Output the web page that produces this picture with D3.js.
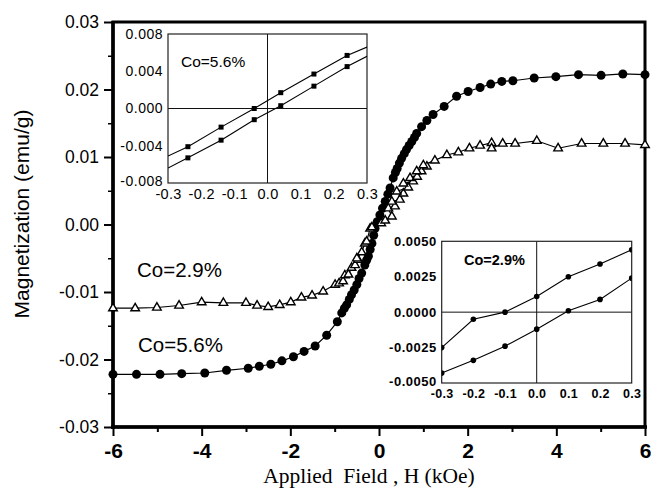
<!DOCTYPE html>
<html>
<head>
<meta charset="utf-8">
<script src="https://cdn.jsdelivr.net/npm/d3@7"></script>
<style>
  body { margin: 0; background: #fff; }
  text { font-family: "Liberation Sans", Arial, sans-serif; fill: #000; }
</style>
</head>
<body>
<div id="chart"></div>
<script>
/* constants */
var width = 651;
var height = 496;

/* data : main loops, H in kOe, M in emu/g */
var co56H = [-6.0,-5.47,-4.94,-4.45,-3.93,-3.44,-2.95,-2.70,-2.44,-2.19,-1.93,-1.69,-1.44,-1.18,-0.94,-0.84,-0.78,-0.73,-0.67,-0.62,-0.56,-0.50,-0.45,-0.39,-0.32,-0.28,-0.24,-0.20,-0.16,-0.12,-0.09,-0.04,0.02,0.08,0.14,0.20,0.25,0.32,0.37,0.41,0.46,0.51,0.57,0.62,0.68,0.74,0.80,0.85,0.96,1.08,1.22,1.47,1.75,2.01,2.28,2.52,2.77,3.02,3.50,3.99,4.50,5.01,5.50,6.0];
var co56M = [-0.0222,-0.0222,-0.0222,-0.0221,-0.0220,-0.0216,-0.0213,-0.0210,-0.0207,-0.0202,-0.0196,-0.0188,-0.0180,-0.0164,-0.0144,-0.0131,-0.0124,-0.0119,-0.0111,-0.0104,-0.0097,-0.0089,-0.0080,-0.0072,-0.0060,-0.0053,-0.0047,-0.0037,-0.0028,-0.0016,-0.0006,0.0004,0.0014,0.0024,0.0034,0.0045,0.0054,0.0069,0.0077,0.0083,0.0091,0.0098,0.0105,0.0111,0.0117,0.0123,0.0129,0.0135,0.0145,0.0154,0.0163,0.0175,0.0190,0.0197,0.0203,0.0208,0.0212,0.0213,0.0217,0.0219,0.0222,0.0221,0.0223,0.0222];

var co29H = [-6.0,-5.5,-5.01,-4.51,-4.0,-3.51,-3.0,-2.75,-2.5,-2.24,-1.99,-1.75,-1.51,-1.26,-0.99,-0.90,-0.81,-0.77,-0.69,-0.62,-0.54,-0.47,-0.50,-0.39,-0.32,-0.28,-0.20,-0.16,0.05,0.14,0.29,0.21,0.36,0.29,0.47,0.55,0.40,0.66,0.55,0.77,0.70,0.86,0.96,0.85,1.08,1.00,1.26,1.53,1.79,2.04,2.28,2.54,2.54,2.79,3.07,3.56,4.04,4.57,5.06,5.55,6.0];
var co29M = [-0.0124,-0.0124,-0.0123,-0.0120,-0.0115,-0.0116,-0.0116,-0.0120,-0.0122,-0.0119,-0.0115,-0.0108,-0.0105,-0.0099,-0.0089,-0.0087,-0.0084,-0.0075,-0.0074,-0.0064,-0.0060,-0.0052,-0.0050,-0.0041,-0.0028,-0.0025,-0.0006,-0.0004,0.0002,0.0006,0.0012,0.0024,0.0027,0.0034,0.0037,0.0046,0.0049,0.0055,0.0061,0.0064,0.0069,0.0071,0.0079,0.0079,0.0086,0.0088,0.0095,0.0103,0.0107,0.0113,0.0117,0.0121,0.0113,0.0120,0.0120,0.0124,0.0113,0.0120,0.0120,0.0120,0.0118];

/* data : low field insets */
var in56H = [-0.3,-0.24,-0.14,-0.04,0.04,0.14,0.24,0.3];
var in56Upper = [-0.0051,-0.0041,-0.0020,0.0000,0.0017,0.0037,0.0057,0.0066];
var in56Lower = [-0.0064,-0.0053,-0.0034,-0.0012,0.0003,0.0024,0.0045,0.0056];

var in29H = [-0.3,-0.2,-0.1,0.0,0.1,0.2,0.3];
var in29Upper = [-0.0025,-0.0005,0.0000,0.0011,0.0025,0.0034,0.0044];
var in29Lower = [-0.0043,-0.0034,-0.0024,-0.0012,0.0001,0.0009,0.0024];

/* tick labels */
var mainXTicks = [-6,-4,-2,0,2,4,6];
var mainXMinor = [-5,-3,-1,1,3,5];
var mainYTicks = [-0.03,-0.02,-0.01,0.00,0.01,0.02,0.03];
var mainYMinor = [-0.025,-0.015,-0.005,0.005,0.015,0.025];
var insetXTicks = [-0.3,-0.2,-0.1,0.0,0.1,0.2,0.3];
var in56YTicks = [-0.008,-0.004,0.000,0.004,0.008];
var in29YTicks = [-0.005,-0.0025,0.0,0.0025,0.005];

function zip(xs, ys){ return xs.map(function(x, i){ return [x, ys[i]]; }); }

var svg = d3.select("#chart").append("svg")
            .attr("width", width)
            .attr("height", height);

/* main scales */
var x = d3.scaleLinear().domain([-6, 6]).range([113, 645]);
var y = d3.scaleLinear().domain([-0.03, 0.03]).range([427, 22]);

/* main axes : ticks outward, labels */
var xAxis = svg.append("g")
    .attr("transform", "translate(0,427)")
    .call(d3.axisBottom(x).tickValues(mainXTicks).tickSize(9).tickSizeOuter(0).tickPadding(6)
          .tickFormat(function(d){ return String(d); }));
xAxis.select(".domain").remove();
xAxis.selectAll("line").attr("stroke-width", 2);
xAxis.selectAll("text").attr("font-size", 21).attr("font-weight", "bold").attr("dy", "0.78em");

var xMinor = svg.append("g")
    .attr("transform", "translate(0,427)")
    .call(d3.axisBottom(x).tickValues(mainXMinor).tickSize(5).tickSizeOuter(0).tickFormat(""));
xMinor.select(".domain").remove();
xMinor.selectAll("line").attr("stroke-width", 2);

var yAxis = svg.append("g")
    .attr("transform", "translate(113,0)")
    .call(d3.axisLeft(y).tickValues(mainYTicks).tickSize(9).tickSizeOuter(0).tickPadding(5)
          .tickFormat(function(d){ return d.toFixed(2); }));
yAxis.select(".domain").remove();
yAxis.selectAll("line").attr("stroke-width", 2);
yAxis.selectAll("text").attr("font-size", 17.5);

var yMinor = svg.append("g")
    .attr("transform", "translate(113,0)")
    .call(d3.axisLeft(y).tickValues(mainYMinor).tickSize(5).tickSizeOuter(0).tickFormat(""));
yMinor.select(".domain").remove();
yMinor.selectAll("line").attr("stroke-width", 1.5);

/* frame */
svg.append("rect")
   .attr("x", 113).attr("y", 22)
   .attr("width", 532).attr("height", 405)
   .attr("fill", "none").attr("stroke", "#000").attr("stroke-width", 3);
svg.append("line").attr("x1", 113).attr("x2", 113).attr("y1", 21).attr("y2", 429)
   .attr("stroke", "#000").attr("stroke-width", 3.5);
svg.append("line").attr("x1", 111).attr("x2", 647).attr("y1", 427).attr("y2", 427)
   .attr("stroke", "#000").attr("stroke-width", 3.5);

/* axis titles */
svg.append("text")
   .attr("transform", "translate(29,214) rotate(-90)")
   .attr("text-anchor", "middle")
   .attr("font-size", 21)
   .text("Magnetization (emu/g)");

svg.append("text")
   .attr("x", 369).attr("y", 483)
   .attr("text-anchor", "middle")
   .attr("font-size", 21.5)
   .style("font-family", "'Liberation Serif', 'Times New Roman', serif")
   .style("white-space", "pre")
   .text("Applied  Field , H (kOe)");

/* main curves */
var mainLine = d3.line().x(function(d){ return x(d[0]); }).y(function(d){ return y(d[1]); });

var co56 = zip(co56H, co56M);
var co29 = zip(co29H, co29M);

svg.append("path").attr("d", mainLine(co56))
   .attr("fill", "none").attr("stroke", "#000").attr("stroke-width", 1.2);
svg.append("g").selectAll("circle")
   .data(co56).enter()
   .append("circle")
   .attr("cx", function(d){ return x(d[0]); })
   .attr("cy", function(d){ return y(d[1]); })
   .attr("r", 4.5)
   .attr("fill", "#000");

svg.append("path").attr("d", mainLine(co29))
   .attr("fill", "none").attr("stroke", "#000").attr("stroke-width", 1.2);
svg.append("g").selectAll("path")
   .data(co29).enter()
   .append("path")
   .attr("d", "M0,-4.8L4.3,2.6L-4.3,2.6Z")
   .attr("transform", function(d){ return "translate(" + x(d[0]) + "," + y(d[1]) + ")"; })
   .attr("fill", "#fff").attr("stroke", "#000").attr("stroke-width", 1.4);

/* curve labels */
svg.append("text").attr("x", 137).attr("y", 277).attr("font-size", 20.5).text("Co=2.9%");
svg.append("text").attr("x", 138).attr("y", 352).attr("font-size", 20.5).text("Co=5.6%");

/* inset builder */
function drawInset(id, box, yDomain, yTicks, yFmt, ySize, xSize, weight, xs, upper, lower, marker, label, labelPos){
    var ix = d3.scaleLinear().domain([-0.3, 0.3]).range([box.x0, box.x1]);
    var iy = d3.scaleLinear().domain(yDomain).range([box.y1, box.y0]);
    var g = svg.append("g");

    g.append("clipPath").attr("id", id)
     .append("rect").attr("x", box.x0).attr("y", box.y0)
     .attr("width", box.x1 - box.x0).attr("height", box.y1 - box.y0);

    g.append("rect")
     .attr("x", box.x0).attr("y", box.y0)
     .attr("width", box.x1 - box.x0).attr("height", box.y1 - box.y0)
     .attr("fill", "#fff");

    // zero lines
    g.append("line").attr("x1", ix(0)).attr("x2", ix(0)).attr("y1", box.y0).attr("y2", box.y1)
     .attr("stroke", "#111").attr("stroke-width", 1);
    g.append("line").attr("x1", box.x0).attr("x2", box.x1).attr("y1", iy(0)).attr("y2", iy(0))
     .attr("stroke", "#111").attr("stroke-width", 1);

    var ya = g.append("g").attr("transform", "translate(" + box.x0 + ",0)")
      .call(d3.axisLeft(iy).tickValues(yTicks).tickSize(0).tickPadding(5).tickFormat(yFmt));
    ya.select(".domain").remove();
    ya.selectAll("text").attr("font-size", ySize).attr("font-weight", weight).attr("letter-spacing", 0.5);
    // lowest label sits a little higher so it clears the x labels
    ya.selectAll(".tick").filter(function(d){ return d === yTicks[0]; })
      .select("text").attr("dy", "0.2em");

    var xa = g.append("g").attr("transform", "translate(0," + box.y1 + ")")
      .call(d3.axisBottom(ix).tickValues(insetXTicks).tickSize(0).tickPadding(6)
            .tickFormat(function(d){ return d.toFixed(1); }));
    xa.select(".domain").remove();
    xa.selectAll("text").attr("font-size", xSize).attr("font-weight", weight).attr("letter-spacing", 0.3);

    g.append("rect")
     .attr("x", box.x0).attr("y", box.y0)
     .attr("width", box.x1 - box.x0).attr("height", box.y1 - box.y0)
     .attr("fill", "none").attr("stroke", "#222").attr("stroke-width", 1.2);

    var line = d3.line().x(function(d){ return ix(d[0]); }).y(function(d){ return iy(d[1]); });
    var plot = g.append("g").attr("clip-path", "url(#" + id + ")");
    [upper, lower].forEach(function(ys){
        var pts = zip(xs, ys);
        plot.append("path").attr("d", line(pts))
            .attr("fill", "none").attr("stroke", "#000").attr("stroke-width", 1.1);
        plot.selectAll(null)
            .data(pts.filter(function(d){ return marker === "circle" || Math.abs(d[0]) < 0.29; }))
            .enter()
            .append(marker === "circle" ? "circle" : "rect")
            .each(function(d){
                var s = d3.select(this);
                if (marker === "circle") {
                    s.attr("cx", ix(d[0])).attr("cy", iy(d[1])).attr("r", 2.8);
                } else {
                    s.attr("x", ix(d[0]) - 2.5).attr("y", iy(d[1]) - 2.5).attr("width", 5).attr("height", 5);
                }
            })
            .attr("fill", "#000");
    });

    g.append("text").attr("x", labelPos[0]).attr("y", labelPos[1])
     .attr("font-size", labelPos[2]).attr("font-weight", labelPos[3])
     .text(label);
}

drawInset("clip56", {x0: 168, x1: 367, y0: 34, y1: 183},
          [-0.008, 0.008], in56YTicks, function(d){ return d.toFixed(3); }, 14, 14.5, "normal",
          in56H, in56Upper, in56Lower, "square", "Co=5.6%", [181, 66.5, 15.5, "normal"]);

drawInset("clip29", {x0: 441.7, x1: 631.7, y0: 241.3, y1: 383},
          [-0.005, 0.005], in29YTicks, function(d){ return d.toFixed(4); }, 13, 12.5, "bold",
          in29H, in29Upper, in29Lower, "circle", "Co=2.9%", [464, 265, 14.5, "bold"]);
</script>
</body>
</html>
